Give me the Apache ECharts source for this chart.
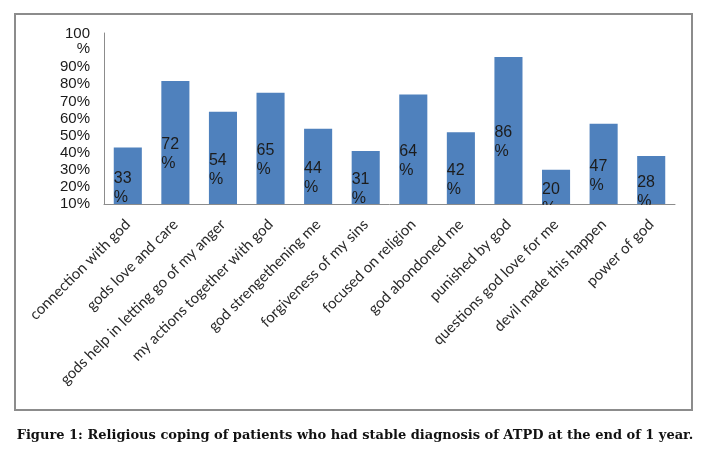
<!DOCTYPE html>
<html>
<head>
<meta charset="utf-8">
<script src="https://cdn.jsdelivr.net/npm/echarts@6/dist/echarts.min.js"></script>
<style>
html,body{margin:0;padding:0;background:#fff;}
#chart{width:710px;height:455px;}
</style>
</head>
<body>
<div id="chart"></div>
<script>
var categories = ['connection with god','gods love and care','gods help in letting go of my anger','my actions together with god','god strengethening me','forgiveness of my sins','focused on religion','god abondoned me','punished by god','questions god love for me','devil made this happen','power of god'];
var values = [33, 72, 54, 65, 44, 31, 64, 42, 86, 20, 47, 28];
var tickLabels = ['10%','20%','30%','40%','50%','60%','70%','80%','90%','100\n%'];
var captionText = 'Figure 1: Religious coping of patients who had stable diagnosis of ATPD at the end of 1 year.';

var chart = echarts.init(document.getElementById('chart'), null, {renderer:'canvas'});
chart.setOption({
  animation: false,
  backgroundColor: '#ffffff',
  title: {
    text: captionText,
    left: 'center',
    top: 424,
    textStyle: {fontFamily: 'DejaVu Serif', fontWeight: 'bold', fontSize: 13, color: '#111111'}
  },
  graphic: [{
    type: 'rect',
    shape: {x: 15, y: 14, width: 677, height: 396},
    style: {fill: 'none', stroke: '#8c8c8c', lineWidth: 2},
    silent: true
  }, {
    type: 'rect',
    shape: {x: 105, y: 205, width: 570, height: 8},
    style: {fill: '#ffffff'},
    z: 100,
    silent: true
  }],
  grid: {left: 104, right: 35, top: 33, bottom: 251, containLabel: false},
  xAxis: {
    type: 'category',
    data: categories,
    axisLine: {show: true, lineStyle: {color: '#8c8c8c', width: 1}},
    axisTick: {show: false},
    axisLabel: {rotate: 45, interval: 0, margin: 18, fontFamily: 'Lato', fontSize: 15, color: '#2a2a2a'}
  },
  yAxis: {
    type: 'value',
    min: 0, max: 100, interval: 5,
    splitLine: {show: false},
    axisLine: {show: true, lineStyle: {color: '#8c8c8c', width: 1}},
    axisTick: {show: false},
    axisLabel: {
      margin: 14,
      fontFamily: 'Liberation Sans', fontSize: 15, color: '#1a1a1a', lineHeight: 15, align: 'right',
      formatter: function (v) {
        if (v === 95) return tickLabels[9];
        if (v % 10 === 0 && v <= 80) return tickLabels[v / 10];
        return '';
      }
    }
  },
  series: [{
    type: 'bar',
    data: values,
    barCategoryGap: '41%',
    itemStyle: {color: '#4f81bd'},
    label: {
      show: true,
      position: 'insideLeft',
      distance: 0,
      offset: [0, 12],
      fontFamily: 'Liberation Sans', fontSize: 16, lineHeight: 19, color: '#1c1c1c',
      formatter: function (p) { return p.value + '\n%'; }
    }
  }]
});
</script>
</body>
</html>
